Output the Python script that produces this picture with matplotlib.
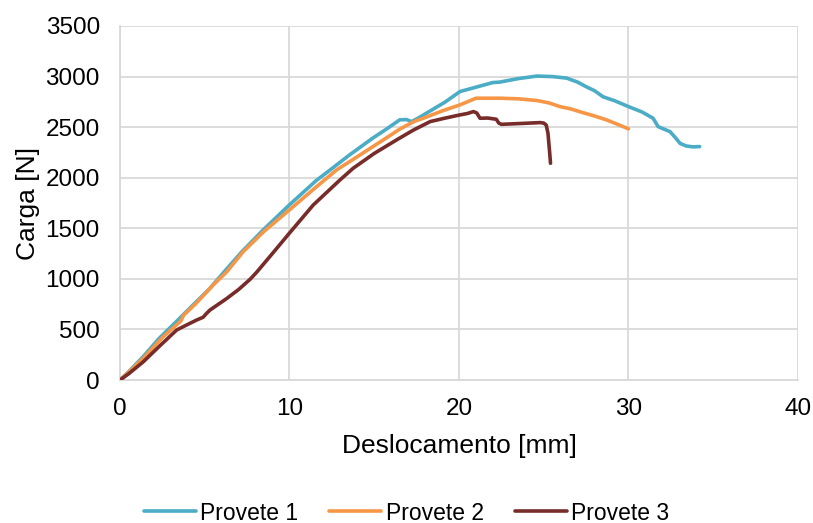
import matplotlib
matplotlib.use("Agg")
import matplotlib.pyplot as plt

plt.rcParams['font.family'] = ['Liberation Sans', 'DejaVu Sans']

# Load-displacement curves for the three specimens
x_p1 = [0, 0.5, 1.38, 2.3, 3.34, 4.3, 5.31, 6.2, 7.2, 8.45, 9.99, 11.4, 11.6,
        12.4, 13.5, 14.9, 15.8, 16.5, 16.9, 17.2, 17.6, 18.3, 19.2, 20.06, 21.0, 22.0,
        22.4, 23.5, 24.6, 25.5, 26.35, 27.0, 27.5, 28.0, 28.5, 29.2, 30.0, 30.8, 31.45,
        31.75, 32.1, 32.45, 32.8, 33.04, 33.4, 33.8, 34.2]
y_p1 = [0, 80, 233, 410, 580, 740, 907, 1080, 1270, 1484, 1731, 1945, 1975,
        2077, 2220, 2390, 2490, 2572, 2575, 2555, 2590, 2660, 2750, 2852, 2895, 2941,
        2945, 2980, 3005, 3000, 2985, 2945, 2900, 2860, 2800, 2760, 2703, 2650, 2588,
        2505, 2480, 2456, 2390, 2340, 2314, 2305, 2308]

x_p2 = [0, 0.5, 1.38, 2.5, 3.6, 3.75, 4.5, 5.5, 6.3, 7.27, 8.5, 9.99, 11.6,
        12.78, 14.16, 15.5, 16.5, 17.4, 17.9, 19.0, 20.06, 21.0, 22.4, 23.5, 24.6, 25.3,
        25.96, 26.6, 27.3, 28.0, 28.7, 29.4, 30.0]
y_p2 = [0, 75, 216, 420, 585, 640, 760, 940, 1070, 1269, 1470, 1681, 1912,
        2077, 2225, 2370, 2480, 2560, 2588, 2660, 2720, 2786, 2786, 2780, 2763, 2740,
        2703, 2680, 2644, 2610, 2572, 2525, 2483]

x_p3 = [0, 0.5, 1.38, 2.3, 3.34, 4.0, 4.52, 4.9, 5.11, 5.31, 6.29, 7.0, 7.67, 8.06,
        9.04, 9.99, 11.4, 12.98, 13.76, 15.0, 16.32, 17.3, 18.3, 19.2, 20.06, 20.5,
        20.85, 21.05, 21.24, 21.7, 22.2, 22.35, 22.5, 23.5, 24.8, 25.0, 25.15, 25.25,
        25.35, 25.4]
y_p3 = [0, 60, 181, 330, 494, 550, 593, 620, 659, 692, 805, 895, 995, 1065,
        1260, 1451, 1730, 1978, 2094, 2240, 2374, 2470, 2555, 2590, 2621, 2635,
        2654, 2640, 2588, 2590, 2578, 2540, 2528, 2535, 2545, 2540, 2520, 2440,
        2250, 2143]

series_labels = ["Provete 1", "Provete 2", "Provete 3"]
colors = ["#4BACC6", "#F79646", "#772C2A"]

x_ticks = [0, 10, 20, 30, 40]
y_ticks = [0, 500, 1000, 1500, 2000, 2500, 3000, 3500]

fig = plt.figure(figsize=(8.13, 5.23), dpi=100)
ax = fig.add_axes([0.1476, 0.2734, 0.9815 - 0.1476, 0.9503 - 0.2734])

for xs, ys, lab, c in zip([x_p1, x_p2, x_p3], [y_p1, y_p2, y_p3], series_labels, colors):
    ax.plot(xs, ys, color=c, lw=2.6, label=lab, solid_joinstyle='round',
            solid_capstyle='round', zorder=3)

ax.set_xlim(0, 40)
ax.set_ylim(0, 3500)
ax.set_xticks(x_ticks)
ax.set_yticks(y_ticks)
ax.grid(True, color="#D9D9D9", lw=1.3, zorder=0)
ax.set_axisbelow(True)
for side in ["top", "right"]:
    ax.spines[side].set_visible(False)
for side in ["left", "bottom"]:
    ax.spines[side].set_color("#D9D9D9")
    ax.spines[side].set_linewidth(1.3)
ax.tick_params(length=0, labelsize=17.5, colors="black")
ax.tick_params(axis="y", pad=14.5)
ax.tick_params(axis="x", pad=13)

ax.set_xlabel("Deslocamento [mm]", fontsize=19, labelpad=10)
ax.set_ylabel("Carga [N]", fontsize=19, labelpad=4)

fig.legend(loc="center", bbox_to_anchor=(0.5, 1 - 513 / 523), ncol=3, frameon=False,
           fontsize=16.5, handlelength=2.27, handletextpad=0.18, columnspacing=1.35)

fig.savefig("out.png", dpi=100)
